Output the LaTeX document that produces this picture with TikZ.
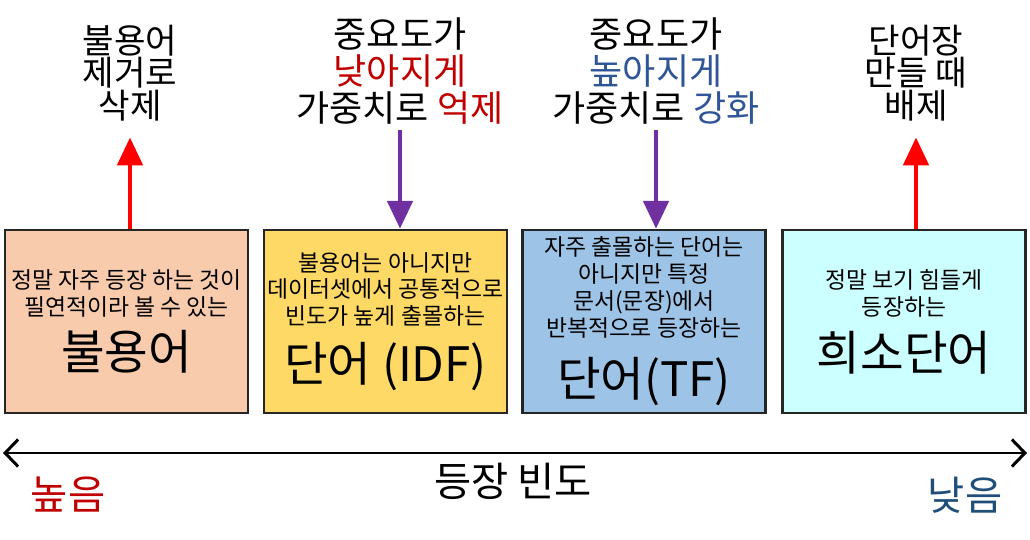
\documentclass[tikz,border=0pt]{standalone}
\usepackage{fontspec}
\setmainfont{Noto Sans CJK KR}
\usepackage{xcolor}
\usetikzlibrary{arrows.meta,positioning}
\definecolor{fqpeach}{HTML}{F8CBAD}
\definecolor{fqgold}{HTML}{FFD966}
\definecolor{fqsky}{HTML}{9DC3E6}
\definecolor{fqaqua}{HTML}{CCFFFF}
\definecolor{fqred}{HTML}{C00000}
\definecolor{fqblue}{HTML}{2F5597}
\definecolor{fqnavy}{HTML}{1F4E79}
\definecolor{fqpurple}{HTML}{7030A0}
\definecolor{fqedge}{HTML}{262626}
\newcommand\fqsmall{\fontsize{13}{15.3}\selectfont}
\newcommand\fqbig{\fontsize{27}{30}\selectfont}
\tikzset{
fqbox/.style={rectangle,draw=fqedge,line width=1.4pt,align=center,inner sep=0pt,minimum width=4.86cm,minimum height=3.66cm,font=\fqsmall},
fqtop/.style={align=center,inner sep=1pt,font=\fontsize{19.5}{17.6}\selectfont},
fqtopwide/.style={align=center,inner sep=1pt,font=\fontsize{20.5}{21}\selectfont},
fqaxlbl/.style={inner sep=1pt,font=\fontsize{23}{24}\selectfont},
fqup/.style={-{Triangle[length=0.56cm,width=0.5cm]},line width=2.8pt,red},
fqdown/.style={-{Triangle[length=0.56cm,width=0.5cm]},line width=2.8pt,fqpurple},
fqaxis/.style={{Straight Barb[length=2.6mm,width=5.4mm]}-{Straight Barb[length=2.6mm,width=5.4mm]},line width=1.7pt,black}
}
\begin{document}
\begin{tikzpicture}[x=0.02cm,y=-0.02cm]
\useasboundingbox (0,0) rectangle (1030,540);
% four word groups
\node[fqbox,fill=fqpeach] (stop) at (126.5,321.5)
  {정말 자주 등장 하는 것이\\필연적이라 볼 수 있는\\[6pt]\fqbig 불용어};
\node[fqbox,fill=fqgold] (idf) at (385.5,321.5)
  {불용어는 아니지만\\데이터셋에서 공통적으로\\빈도가 높게 출몰하는\\[8pt]\fqbig 단어 (IDF)};
\node[fqbox,fill=fqsky] (tf) at (644,321.5)
  {자주 출몰하는 단어는\\아니지만 특정\\문서(문장)에서\\반복적으로 등장하는\\[10pt]\fqbig 단어(TF)};
\node[fqbox,fill=fqaqua] (rare) at (904,321.5)
  {정말 보기 힘들게\\등장하는\\[7pt]\fqbig 희소단어};
% what happens to each group
\node[fqtop] (stoplbl) at (130,73) {불용어\\제거로\\삭제};
\node[fqtopwide] (idflbl) at (400,71)
  {중요도가\\\textcolor{fqred}{낮아지게}\\가중치로 \textcolor{fqred}{억제}};
\node[fqtopwide] (tflbl) at (656,71)
  {중요도가\\\textcolor{fqblue}{높아지게}\\가중치로 \textcolor{fqblue}{강화}};
\node[fqtop] (rarelbl) at (916,73) {단어장\\만들 때\\배제};
\draw[fqup,shorten >=0.28cm] (stop.north -| stoplbl.south) -- (stoplbl.south);
\draw[fqdown,shorten <=2pt] (idflbl.south) -- (idflbl.south |- idf.north);
\draw[fqdown,shorten <=2pt] (tflbl.south) -- (tflbl.south |- tf.north);
\draw[fqup,shorten >=0.28cm] (rare.north -| rarelbl.south) -- (rarelbl.south);
% frequency axis
\coordinate (hi) at (3,453);
\coordinate (lo) at (1027,453);
\draw[fqaxis] (hi) -- (lo);
\node[fqaxlbl] (freq) at (513,481) {등장 빈도};
\node[fqaxlbl,text=fqred] (high) at (68,495) {높음};
\node[fqaxlbl,text=fqnavy] (low) at (965,495) {낮음};
\end{tikzpicture}
\end{document}
